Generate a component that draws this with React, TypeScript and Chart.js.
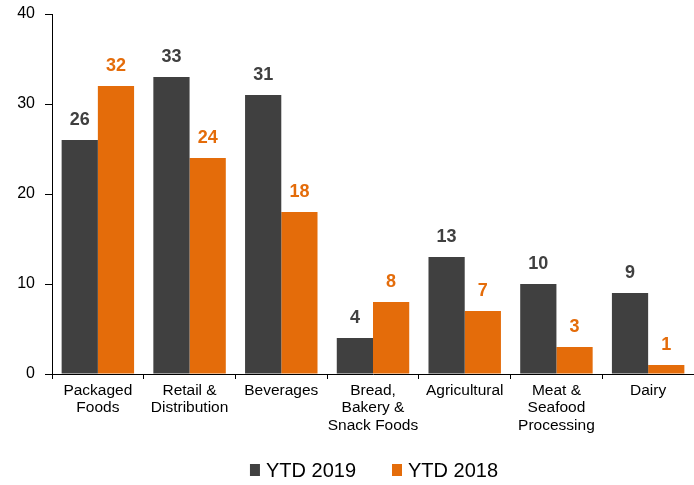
import React, { useEffect, useRef } from "react";
import { Chart, registerables } from "chart.js";

Chart.register(...registerables);

const categories: string[][] = [
  ["Packaged", "Foods"],
  ["Retail &", "Distribution"],
  ["Beverages"],
  ["Bread,", "Bakery &", "Snack Foods"],
  ["Agricultural"],
  ["Meat &", "Seafood", "Processing"],
  ["Dairy"],
];
const ytd2019: number[] = [26, 33, 31, 4, 13, 10, 9];
const ytd2018: number[] = [32, 24, 18, 8, 7, 3, 1];
const seriesNames: string[] = ["YTD 2019", "YTD 2018"];
const yTicks: number[] = [0, 10, 20, 30, 40];

const DARK = "#404040";
const ORANGE = "#E46C0A";
const FONT = "'Liberation Sans', Arial, sans-serif";

const valueLabels = {
  id: "valueLabels",
  afterDatasetsDraw(chart: any) {
    const ctx = chart.ctx;
    ctx.save();
    ctx.font = `bold 18px ${FONT}`;
    ctx.textAlign = "center";
    ctx.textBaseline = "middle";
    chart.data.datasets.forEach((ds: any, di: number) => {
      const meta = chart.getDatasetMeta(di);
      ctx.fillStyle = ds.backgroundColor;
      meta.data.forEach((bar: any, i: number) => {
        ctx.fillText(String(ds.data[i]), bar.x, bar.y - 20);
      });
    });
    ctx.restore();
  },
};

const customLegend = {
  id: "customLegend",
  afterDraw(chart: any) {
    const ctx = chart.ctx;
    const { chartArea } = chart;
    ctx.save();
    ctx.font = `20px ${FONT}`;
    ctx.textBaseline = "middle";
    ctx.textAlign = "left";
    const boxW = 10;
    const boxH = 12;
    const textGap = 6;
    const itemGap = 36;
    const items = chart.data.datasets.map((ds: any) => ({
      label: ds.label,
      color: ds.backgroundColor,
      w: boxW + textGap + ctx.measureText(ds.label).width,
    }));
    const total = items.reduce((s: number, it: any) => s + it.w, 0) + itemGap * (items.length - 1);
    let x = (chartArea.left + chartArea.right) / 2 + 1 - total / 2;
    const cy = 470;
    items.forEach((it: any) => {
      ctx.fillStyle = it.color;
      ctx.fillRect(x, cy - boxH / 2, boxW, boxH);
      ctx.fillStyle = "#000";
      ctx.fillText(it.label, x + boxW + textGap, cy + 1);
      x += it.w + itemGap;
    });
    ctx.restore();
  },
};

export default function App() {
  const canvasRef = useRef<HTMLCanvasElement | null>(null);

  useEffect(() => {
    document.body.style.margin = "0";
    const canvas = canvasRef.current;
    if (!canvas) return;
    const chart = new Chart(canvas, {
      type: "bar",
      data: {
        labels: categories,
        datasets: [
          { label: seriesNames[0], data: ytd2019, backgroundColor: DARK, borderWidth: 0 },
          { label: seriesNames[1], data: ytd2018, backgroundColor: ORANGE, borderWidth: 0 },
        ],
      },
      options: {
        responsive: false,
        animation: false,
        devicePixelRatio: 1,
        layout: { padding: { top: 14, right: -2, bottom: 0, left: 0 } },
        datasets: {
          bar: { categoryPercentage: 0.79, barPercentage: 1 },
        },
        plugins: {
          legend: { display: false },
          tooltip: { enabled: false },
        },
        scales: {
          x: {
            offset: true,
            grid: {
              display: true,
              drawOnChartArea: false,
              drawTicks: true,
              tickLength: 5,
              color: "#000",
              offset: true,
            },
            border: { display: true, color: "#000", width: 1 },
            ticks: {
              color: "#000",
              font: { family: FONT, size: 15.5, lineHeight: 1.12 },
              padding: 3,
              maxRotation: 0,
              autoSkip: false,
            },
            afterFit(scale: any) {
              scale.height = 111;
            },
          },
          y: {
            min: 0,
            max: 40,
            afterBuildTicks(scale: any) {
              scale.ticks = yTicks.map((v) => ({ value: v }));
            },
            grid: {
              display: true,
              drawOnChartArea: false,
              drawTicks: true,
              tickLength: 7,
              color: "#000",
            },
            border: { display: true, color: "#000", width: 1 },
            ticks: {
              color: "#000",
              font: { family: FONT, size: 16 },
              padding: 10,
            },
            afterFit(scale: any) {
              scale.width = 52;
              scale.paddingTop = 0;
              scale.paddingBottom = 0;
            },
          },
        },
      },
      plugins: [valueLabels, customLegend],
    });
    return () => chart.destroy();
  }, []);

  return (
    <div style={{ position: "absolute", left: 0, top: 0, width: 694, height: 485, background: "#fff" }}>
      <canvas ref={canvasRef} width={694} height={485} style={{ display: "block" }} />
    </div>
  );
}
